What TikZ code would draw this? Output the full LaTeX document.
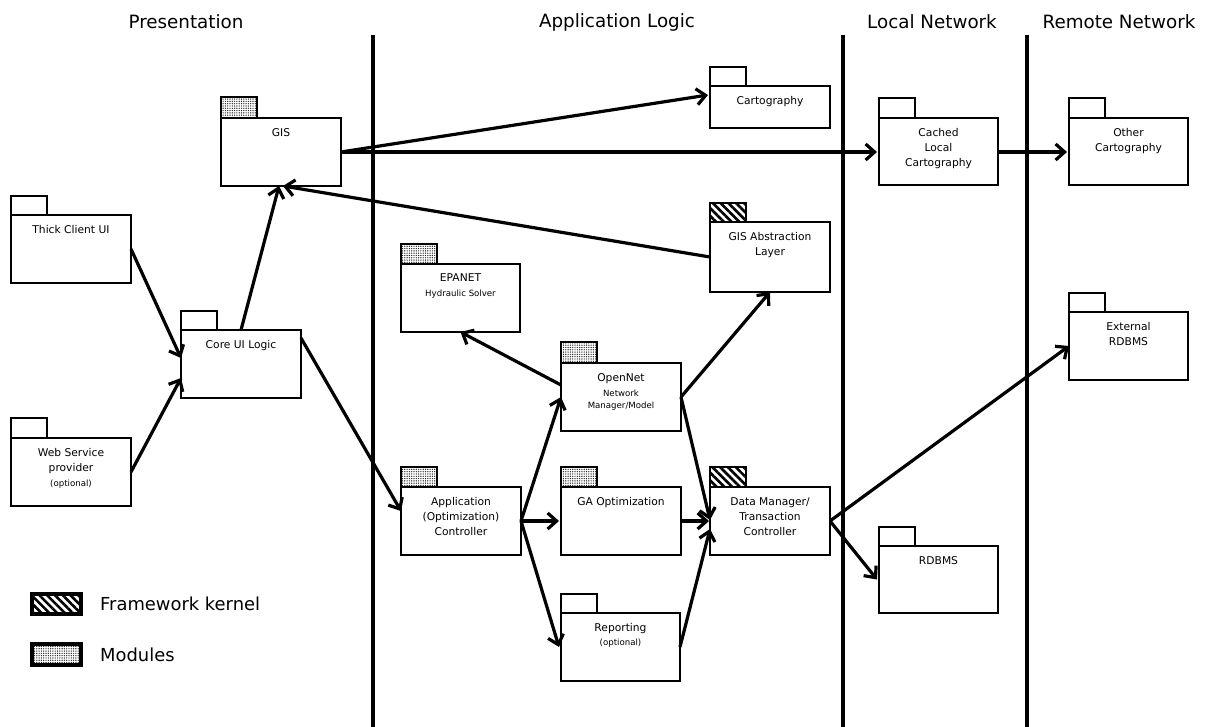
\documentclass[tikz,border=0pt]{standalone}
\usepackage{fontspec}
\setmainfont{DejaVu Sans}
\usetikzlibrary{arrows.meta,calc,fit,patterns,patterns.meta}
\newcommand\smalltxt[1]{{\fontsize{8.6}{12}\selectfont #1}}
\newcommand\pkgbox[8]{%
  \node[tabbox,#7,fit={(#2,#4)(#2+36,#5)}] (#1-tab) {};
  \node[body,fit={(#2,#5)(#3,#6)}] (#1) {};
  \node[ptext] (#1-label) at ($(#1.north)+(0,10)$) {#8};
}
\tikzset{
  body/.style={draw, line width=1.2pt, inner sep=0pt, outer sep=0pt, fill=white},
  tabbox/.style={draw, line width=1.2pt, inner sep=0pt, outer sep=0pt},
  plain tab/.style={fill=white},
  dot tab/.style={pattern={Dots[distance=2.3pt,radius=0.7pt]}, pattern color=black!85},
  kern tab/.style={pattern={Lines[angle=-45,distance=5.5pt,line width=2.6pt]}},
  ptext/.style={anchor=north, align=center, inner sep=0pt, font=\fontsize{10.7}{15}\selectfont},
  heading/.style={font=\fontsize{18.3}{20}\selectfont, inner sep=0pt},
  legendtext/.style={font=\fontsize{17.9}{20}\selectfont, inner sep=0pt},
  legendbox/.style={draw, line width=4pt, inner sep=0pt, outer sep=0pt},
  sepline/.style={line width=4pt},
  conn/.style={line width=3.2pt, -{Straight Barb[length=9pt,width=16pt]}},
}
\begin{document}
\begin{tikzpicture}[x=1pt,y=-1pt]
\fill[white] (0,0) rectangle (1208,727);
\useasboundingbox (0,0) rectangle (1208,727);

% separators
\coordinate (s1t) at (373,35); \coordinate (s1b) at (373,727);
\coordinate (s2t) at (843,35); \coordinate (s2b) at (843,727);
\coordinate (s3t) at (1027,35); \coordinate (s3b) at (1027,727);
\draw[sepline] (s1t) -- (s1b);
\draw[sepline] (s2t) -- (s2b);
\draw[sepline] (s3t) -- (s3b);

% headings
\node[heading] (h1) at (186,22) {Presentation};
\node[heading] (h2) at (617,22) {Application Logic};
\node[heading] (h3) at (932,22) {Local Network};
\node[heading] (h4) at (1119,22) {Remote Network};

% packages
\pkgbox{cart}{710}{830}{67}{86}{128}{plain tab}{Cartography}
\pkgbox{gis}{221}{341}{97}{118}{186}{dot tab}{GIS}
\pkgbox{cached}{879}{998}{98}{118}{185}{plain tab}{Cached\\Local\\Cartography}
\pkgbox{other}{1069}{1188}{98}{118}{185}{plain tab}{Other\\Cartography}
\pkgbox{thick}{11}{131}{196}{215}{283}{plain tab}{Thick Client UI}
\pkgbox{gisabs}{710}{830}{203}{222}{292}{kern tab}{GIS Abstraction\\Layer}
\pkgbox{epanet}{401}{520}{244}{264}{332}{dot tab}{EPANET\\\smalltxt{Hydraulic Solver}}
\pkgbox{core}{181}{301}{311}{330}{398}{plain tab}{Core UI Logic}
\pkgbox{ext}{1069}{1188}{293}{312}{380}{plain tab}{External\\RDBMS}
\pkgbox{opennet}{561}{681}{342}{363}{431}{dot tab}{OpenNet\\\smalltxt{Network}\\[-3pt]\smalltxt{Manager/Model}}
\pkgbox{web}{11}{131}{418}{438}{506}{plain tab}{Web Service\\provider\\\smalltxt{(optional)}}
\pkgbox{app}{401}{521}{467}{487}{555}{dot tab}{Application\\(Optimization)\\Controller}
\pkgbox{ga}{561}{681}{467}{487}{555}{dot tab}{GA Optimization}
\pkgbox{dm}{710}{830}{467}{487}{555}{kern tab}{Data Manager/\\Transaction\\Controller}
\pkgbox{rdbms}{879}{998}{527}{546}{613}{plain tab}{RDBMS}
\pkgbox{rep}{561}{680}{594}{613}{681}{plain tab}{Reporting\\[-1pt]\smalltxt{(optional)}}

% legend
\node[legendbox, kern tab, fit={(32,594)(81,614)}] (lk) {};
\node[legendtext, anchor=west] (lkt) at (100,604) {Framework kernel};
\node[legendbox, dot tab, fit={(32,644)(81,665)}] (lm) {};
\node[legendtext, anchor=west] (lmt) at (100,655) {Modules};

% connectors
\draw[conn] (gis.east) -- ($(cart.west)+(-2,-12)$);
\draw[conn] (gis.east) -- ($(cached.west |- gis.east)+(-2,0)$);
\draw[conn] (cached.east |- gis.east) -- ($(other.west |- gis.east)+(-2,0)$);
\draw[conn] (gisabs.west) -- ($(gis.south)+(2,0)$);
\draw[conn] (thick.east) -- ($(core.west)+(0,-6)$);
\draw[conn] (web.east) -- ($(core.west)+(0,14)$);
\draw[conn] (core.north) -- ($(gis.south)+(-2,0)$);
\draw[conn] ($(core.north east)+(0,8)$) -- ($(app.west)+(0,-10)$);
\draw[conn] ($(opennet.west)+(0,-12)$) -- (epanet.south);
\draw[conn] (opennet.east) -- (gisabs.south);
\draw[conn] (app.east) -- (opennet.west);
\draw[conn] (app.east) -- ($(ga.west)+(-2,0)$);
\draw[conn] (app.east) -- ($(rep.west)+(-2,0)$);
\draw[conn] (ga.east) -- ($(dm.west)+(-1,0)$);
\draw[conn] (opennet.east) -- ($(dm.west)+(0,-1)$);
\draw[conn] (rep.east) -- ($(dm.west)+(0,8)$);
\draw[conn] (dm.east) -- (ext.west);
\draw[conn] (dm.east) -- ($(rdbms.west)+(-2,0)$);
\end{tikzpicture}
\end{document}
